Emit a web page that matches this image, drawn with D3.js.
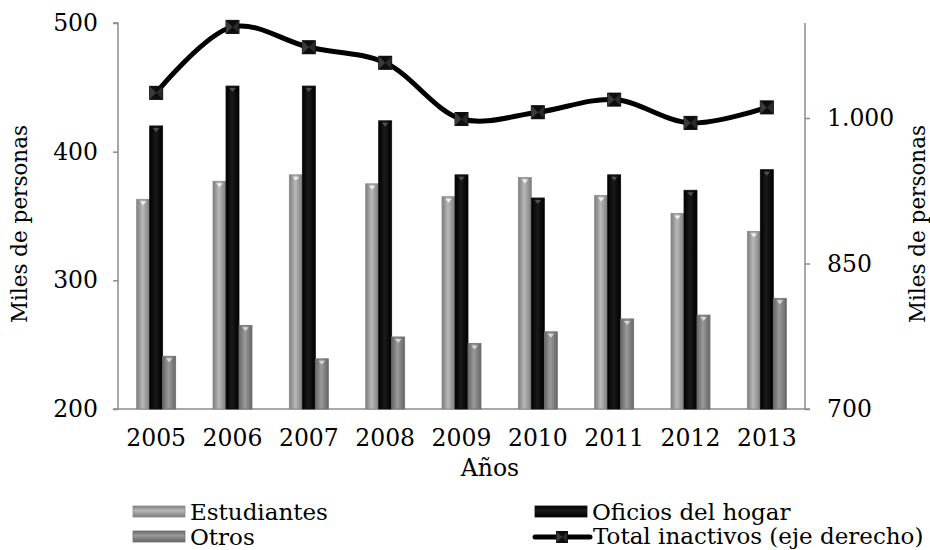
<!DOCTYPE html>
<html><head><meta charset="utf-8">
<script src="https://cdn.jsdelivr.net/npm/d3@7"></script>
<style>body{margin:0;background:#fff}svg{display:block}text{font-family:"DejaVu Serif","Liberation Serif",serif;fill:#000}</style>
</head><body>
<script>
const years = ["2005","2006","2007","2008","2009","2010","2011","2012","2013"];
const estudiantes = [363, 377, 382, 375, 365, 380, 366, 352, 338];
const oficios = [420, 451, 451, 424, 382, 364, 382, 370, 386];
const otros = [241, 265, 239, 256, 251, 260, 270, 273, 286];
const totalInactivos = [1026, 1094, 1073, 1057, 999, 1006, 1019, 995, 1011];
const leftTicks = [200, 300, 400, 500];
const rightTicks = [700, 850, 1000];
const seriesNames = ["Estudiantes", "Oficios del hogar", "Otros"];
const lineName = "Total inactivos (eje derecho)";

const W = 930, H = 550;
const svg = d3.select("body").append("svg").attr("width", W).attr("height", H);
const defs = svg.append("defs");

const m = {l:118, r:805, t:23, b:409};
const x = d3.scaleBand().domain(years).range([m.l, m.r]).padding(0);
const yL = d3.scaleLinear().domain([200, 500]).range([m.b, m.t]);
const yR = d3.scaleLinear().domain([700, 1098]).range([m.b, m.t]);
const bw = x.bandwidth();
const xs = d3.scaleBand().domain(seriesNames).range([bw/2 - 19.5, bw/2 + 19.5]).padding(0);

const styles = {
  "Estudiantes": {edge:"#7d7d7d", mid:"#b8b8b8", stroke:"#8a8a8a", cap:"#f4f4f4"},
  "Oficios del hogar": {edge:"#000", mid:"#1a1a1a", stroke:"#111", cap:"#555"},
  "Otros": {edge:"#666", mid:"#9a9a9a", stroke:"#707070", cap:"#dcdcdc"}
};
seriesNames.forEach((s, i) => {
  const st = styles[s];
  const g = defs.append("linearGradient").attr("id", "gh" + i).attr("x1", 0).attr("x2", 1).attr("y1", 0).attr("y2", 0);
  g.append("stop").attr("offset", "0%").attr("stop-color", st.edge);
  g.append("stop").attr("offset", "45%").attr("stop-color", st.mid);
  g.append("stop").attr("offset", "100%").attr("stop-color", st.edge);
  const gv = defs.append("linearGradient").attr("id", "gv" + i).attr("x1", 0).attr("x2", 0).attr("y1", 0).attr("y2", 1);
  gv.append("stop").attr("offset", "0%").attr("stop-color", st.edge);
  gv.append("stop").attr("offset", "40%").attr("stop-color", st.mid);
  gv.append("stop").attr("offset", "100%").attr("stop-color", st.edge);
});

const FS = "23.5px";
const LFS = "23px";
const axisColor = "#8c8c8c";
const gl = svg.append("g").attr("transform", `translate(${m.l},0)`)
  .call(d3.axisLeft(yL).tickValues(leftTicks).tickSize(5).tickPadding(15).tickFormat(d3.format("d")));
const gr = svg.append("g").attr("transform", `translate(${m.r},0)`)
  .call(d3.axisRight(yR).tickValues(rightTicks).tickSize(5).tickPadding(17).tickFormat(d => d3.format(",")(d).replace(",", ".")));
const gb = svg.append("g").attr("transform", `translate(0,${m.b})`)
  .call(d3.axisBottom(x).tickSize(0).tickPadding(20));
[gl, gr, gb].forEach(g => {
  g.selectAll("path.domain").attr("stroke", axisColor).attr("stroke-width", 1.5);
  g.selectAll(".tick line").attr("stroke", axisColor).attr("stroke-width", 1.5);
  g.selectAll("text").style("font-family", '"DejaVu Serif", serif').style("font-size", FS).attr("fill", "#000");
});
gl.select("path.domain").attr("d", `M-5,${yL(500)}H0V${m.b}H-5`);
gr.select("path.domain").attr("d", `M0,${yR(1098)}V${m.b}H5`);
gb.select("path.domain").attr("d", `M${m.l},0H${m.r}`);

// bars
const data = [estudiantes, oficios, otros];
seriesNames.forEach((s, i) => {
  const g = svg.append("g");
  const vals = data[i];
  g.selectAll("rect").data(years).join("rect")
    .attr("x", d => x(d) + xs(s))
    .attr("y", (d, j) => yL(vals[j]))
    .attr("width", xs.bandwidth())
    .attr("height", (d, j) => m.b - yL(vals[j]))
    .attr("fill", `url(#gh${i})`)
    .attr("stroke", styles[s].stroke).attr("stroke-width", 0.8);
  g.selectAll("path").data(years).join("path")
    .attr("d", (d, j) => {
      const x0 = x(d) + xs(s), w = xs.bandwidth(), y0 = yL(vals[j]);
      return `M${x0 + w*0.25},${y0 + 2}L${x0 + w*0.75},${y0 + 2}L${x0 + w/2},${y0 + 6}Z`;
    })
    .attr("fill", styles[s].cap).attr("opacity", 0.9);
});

// line
const cx = d => x(d) + bw/2;
const line = d3.line().x((d, j) => cx(years[j])).y(d => yR(d)).curve(d3.curveCatmullRom.alpha(0.5));
svg.append("path").datum(totalInactivos).attr("d", line)
  .attr("fill", "none").attr("stroke", "#000").attr("stroke-width", 5).attr("stroke-linejoin", "round");

function marker(g, px, py, s) {
  const h = s/2;
  g.append("rect").attr("x", px - h).attr("y", py - h).attr("width", s).attr("height", s).attr("fill", "#2a2a2a").attr("stroke", "#111").attr("stroke-width", 1);
  g.append("path").attr("d", `M${px-h},${py-h}L${px+h},${py-h}L${px},${py}Z M${px-h},${py+h}L${px+h},${py+h}L${px},${py}Z`).attr("fill", "#0d0d0d");
  g.append("path").attr("d", `M${px-h},${py-h}L${px},${py}L${px-h},${py+h}Z`).attr("fill", "#3a3a3a");
}
const mg = svg.append("g");
totalInactivos.forEach((v, j) => marker(mg, cx(years[j]), yR(v), 13));

// axis titles
svg.append("text").attr("transform", `translate(27,${(m.t + m.b)/2 + 8}) rotate(-90)`).attr("text-anchor", "middle").style("font-size", "21.5px").text("Miles de personas");
svg.append("text").attr("transform", `translate(925,${(m.t + m.b)/2 + 8}) rotate(-90)`).attr("text-anchor", "middle").style("font-size", "21.5px").text("Miles de personas");
svg.append("text").attr("x", 490).attr("y", 476).attr("text-anchor", "middle").style("font-size", FS).text("Años");

// legend
const leg = svg.append("g");
const legItems = [
  {name: seriesNames[0], i: 0, x: 133, y: 512},
  {name: seriesNames[1], i: 1, x: 535, y: 512},
  {name: seriesNames[2], i: 2, x: 133, y: 537}
];
legItems.forEach(it => {
  leg.append("rect").attr("x", it.x).attr("y", it.y - 6).attr("width", 52).attr("height", 11)
    .attr("fill", `url(#gv${it.i})`).attr("stroke", styles[it.name].stroke).attr("stroke-width", 0.8);
  leg.append("text").attr("x", it.x + 57).attr("y", it.y + 7.5).style("font-size", LFS).text(it.name);
});
leg.append("line").attr("x1", 535).attr("x2", 590).attr("y1", 537).attr("y2", 537).attr("stroke", "#000").attr("stroke-width", 5).attr("stroke-linecap", "round");
marker(leg, 562, 537, 11);
leg.append("text").attr("x", 593).attr("y", 544).style("font-size", LFS).text(lineName);
</script>
</body></html>
